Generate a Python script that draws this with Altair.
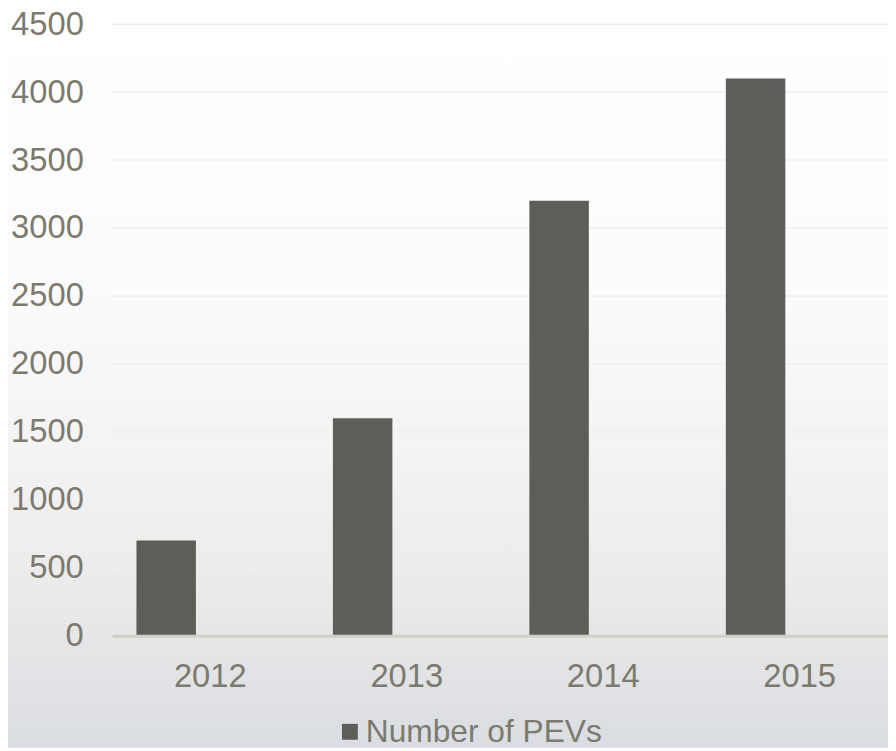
import altair as alt
import pandas as pd

# ---- data ----
years = ["2012", "2013", "2014", "2015"]
pevs = [700, 1600, 3200, 4100]
series_name = ["Number of PEVs"] * 4
y_ticks = [0, 500, 1000, 1500, 2000, 2500, 3000, 3500, 4000, 4500]
grid_values = [500, 1000, 1500, 2000, 2500, 3000, 3500, 4000, 4500]

TEXT = "#7c7a6c"
BAR = "#5e5d58"
FONT = "Liberation Sans"

# the plot area runs ~10px past the right edge of the picture
W, H = 793, 617
PAD = {"left": 105, "top": 13, "right": -10, "bottom": 113}

bars_df = pd.DataFrame({"year": years, "pevs": pevs, "series": series_name})
grid_df = pd.DataFrame({"pevs": grid_values})

xscale = alt.Scale(domain=years, paddingInner=0, paddingOuter=0)
yscale = alt.Scale(domain=[0, 4500], nice=False)
yaxis = alt.Axis(
    values=y_ticks, format="d", labelFontSize=33, labelColor=TEXT, labelFont=FONT,
    labelPadding=29, ticks=False, domain=False, grid=False, zindex=1,
)

bg = alt.Chart(pd.DataFrame({"a": [0]})).mark_rect(
    clip=False,
    fill=alt.LinearGradient(
        gradient="linear", x1=0, x2=0, y1=0, y2=1,
        stops=[
            alt.GradientStop(offset=0.0, color="#ffffff"),
            alt.GradientStop(offset=0.38, color="#fbfbfb"),
            alt.GradientStop(offset=0.595, color="#f3f3f3"),
            alt.GradientStop(offset=0.797, color="#eaeaea"),
            alt.GradientStop(offset=0.864, color="#e5e5e7"),
            alt.GradientStop(offset=1.0, color="#d9dde1"),
        ],
    ),
).encode(
    x=alt.value(-PAD["left"]), x2=alt.value(W),
    y=alt.value(-PAD["top"]), y2=alt.value(H + PAD["bottom"]),
)

grid = alt.Chart(grid_df).mark_rule(color="#efefef", strokeWidth=1.5).encode(
    y=alt.Y("pevs:Q", scale=yscale, title=None, axis=yaxis)
)

bars = alt.Chart(bars_df).mark_bar(width=60, xOffset=-44.5).encode(
    x=alt.X(
        "year:N", scale=xscale, sort=years, title=None,
        axis=alt.Axis(
            labelAngle=0, labelFontSize=33, labelColor=TEXT, labelFont=FONT,
            labelPadding=25, ticks=False, domain=True, domainColor="#d0d0c8",
            domainWidth=3, grid=False, zindex=1,
        ),
    ),
    y=alt.Y("pevs:Q", scale=yscale, title=None, axis=yaxis),
    color=alt.Color(
        "series:N", scale=alt.Scale(range=[BAR]),
        legend=alt.Legend(
            title=None, orient="none", legendX=224, legendY=698,
            symbolType="square", symbolSize=256, symbolStrokeWidth=0,
            labelFontSize=32, labelColor=TEXT, labelFont=FONT, labelOffset=0,
            labelLimit=0,
        ),
    ),
)

chart = alt.layer(bg, grid, bars).properties(
    width=W, height=H, autosize="none", padding=PAD,
).configure_view(stroke=None).configure(background="#ffffff")

chart.save("out.html", embed_options={"renderer": "svg", "actions": False})
